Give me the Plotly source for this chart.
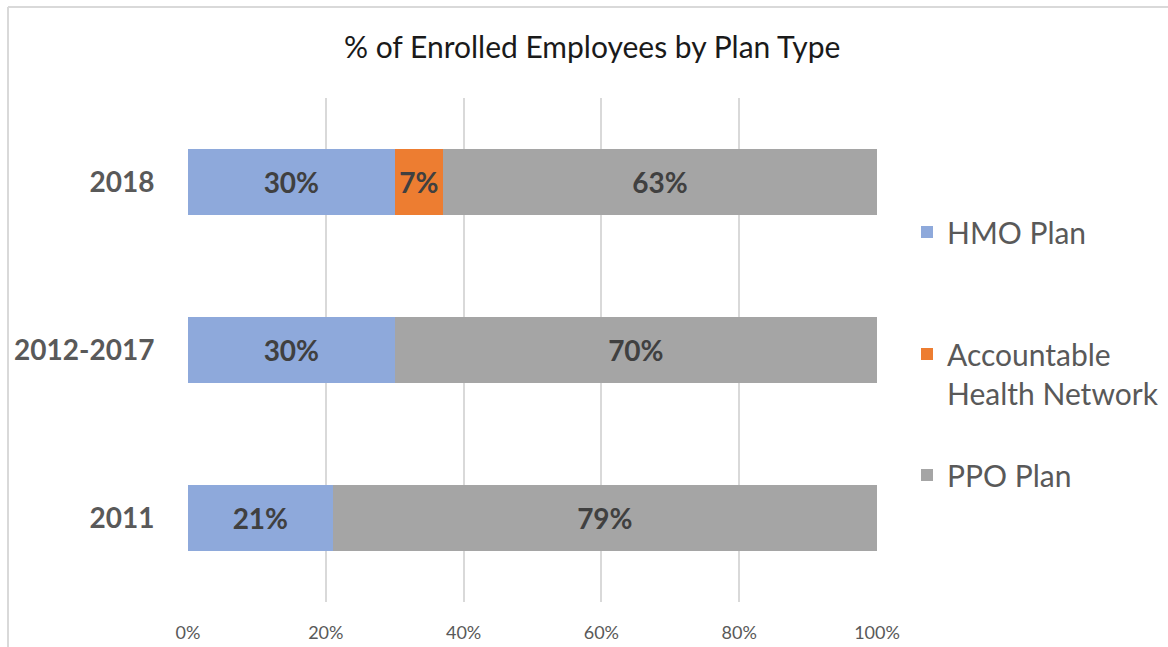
import plotly.graph_objects as go

categories = ["2011", "2012-2017", "2018"]
series_names = ["HMO Plan", "Accountable<br>Health Network", "PPO Plan"]
hmo = [21, 30, 30]
ahn = [None, None, 7]
ppo = [79, 70, 63]
tick_vals = [0, 20, 40, 60, 80, 100]
tick_text = ["0%", "20%", "40%", "60%", "80%", "100%"]
colors = ["#8EA9DB", "#ED7D31", "#A5A5A5"]

W, H = 1168, 647
L, R, T, B = 188, 291, 98, 45
pw, ph = W - L - R, H - T - B


def px_x(p):
    return (p - L) / pw


def px_y(p):
    return (H - B - p) / ph


legend_ids = ["legend", "legend2", "legend3"]
legend_tops = [206, 328, 449]

fig = go.Figure()
for name, vals, col, lid in zip(series_names, [hmo, ahn, ppo], colors, legend_ids):
    fig.add_trace(go.Bar(
        y=categories, x=vals, name=name, orientation="h",
        marker=dict(color=col, line=dict(width=0)),
        texttemplate="%{x}%", textposition="inside", insidetextanchor="middle",
        textfont=dict(family="Lato", size=28, color="#404040", weight="bold"),
        legend=lid, width=0.393, showlegend=True,
    ))

legend_layouts = {}
for lid, top in zip(legend_ids, legend_tops):
    legend_layouts[lid] = dict(
        x=px_x(907), xanchor="left", y=px_y(top), yanchor="top", valign="top",
        bgcolor="rgba(0,0,0,0)",
        font=dict(family="Lato", size=30, color="#595959"),
    )

fig.update_layout(
    width=W, height=H, barmode="stack", showlegend=True,
    margin=dict(l=L, r=R, t=T, b=B, autoexpand=False),
    paper_bgcolor="white", plot_bgcolor="white",
    font=dict(family="Lato", color="#595959"),
    title=dict(text="% of Enrolled Employees by Plan Type", x=0.507, xref="container",
               y=1 - 47 / H, yref="container", xanchor="center", yanchor="middle",
               font=dict(family="Lato", size=30, color="#1a1a1a")),
    xaxis=dict(range=[0, 100], tickvals=tick_vals, ticktext=tick_text,
               showgrid=True, gridcolor="#D9D9D9", gridwidth=1.5, zeroline=False,
               showline=False, ticks="outside", ticklen=14, tickcolor="rgba(0,0,0,0)",
               tickfont=dict(family="Lato", size=18, color="#595959")),
    yaxis=dict(categoryorder="array", categoryarray=categories, range=[-0.5, 2.5],
               showgrid=False, zeroline=False, showline=False,
               ticks="outside", ticklen=27, tickcolor="rgba(0,0,0,0)",
               tickfont=dict(family="Lato", size=28, color="#595959", weight="bold")),
    shapes=[
        dict(type="line", xref="paper", yref="paper", x0=px_x(8), x1=px_x(1168),
             y0=px_y(7), y1=px_y(7), line=dict(color="#D9D9D9", width=2)),
        dict(type="line", xref="paper", yref="paper", x0=px_x(8), x1=px_x(8),
             y0=px_y(7), y1=px_y(647), line=dict(color="#D9D9D9", width=2)),
    ],
    **legend_layouts,
)

fig.write_html("out.html")
